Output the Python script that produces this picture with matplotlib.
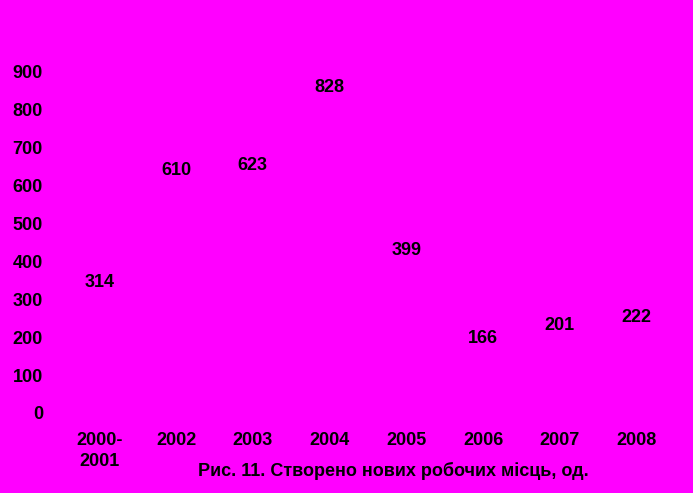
import matplotlib.pyplot as plt

categories = ["2000-\n2001", "2002", "2003", "2004", "2005", "2006", "2007", "2008"]
jobs = [314, 610, 623, 828, 399, 166, 201, 222]
yticks = [0, 100, 200, 300, 400, 500, 600, 700, 800, 900]

bg = "#FF00FF"
plt.rcParams["font.family"] = ["Liberation Sans", "DejaVu Sans"]
plt.rcParams["font.weight"] = "bold"

fig = plt.figure(figsize=(6.93, 4.93), dpi=100, facecolor=bg)
ax = fig.add_axes([0.088, 0.1623, 0.886, 0.692])
ax.set_facecolor(bg)

x = range(len(categories))
bars = ax.bar(x, jobs, width=0.6, color=bg)
for xi, v in zip(x, jobs):
    ax.annotate(str(v), (xi, v), xytext=(0, 2), textcoords="offset points",
                ha="center", va="bottom", fontsize=13, fontweight="bold")

ax.set_xlim(-0.5, len(categories) - 0.5)
ax.set_ylim(0, 900)
ax.set_yticks(yticks)
ax.set_xticks(list(x))
ax.set_xticklabels(categories, fontsize=13, fontweight="bold", va="top",
                   linespacing=1.25)
ax.tick_params(axis="y", length=0, pad=13, labelsize=13)
ax.tick_params(axis="x", length=0, pad=14, labelsize=13)
for s in ax.spines.values():
    s.set_visible(False)

fig.text(0.567, 0.045, "Рис. 11. Створено нових робочих місць, од.",
         ha="center", va="center", fontsize=13, fontweight="bold")

fig.savefig("out.png", dpi=100, facecolor=bg)
